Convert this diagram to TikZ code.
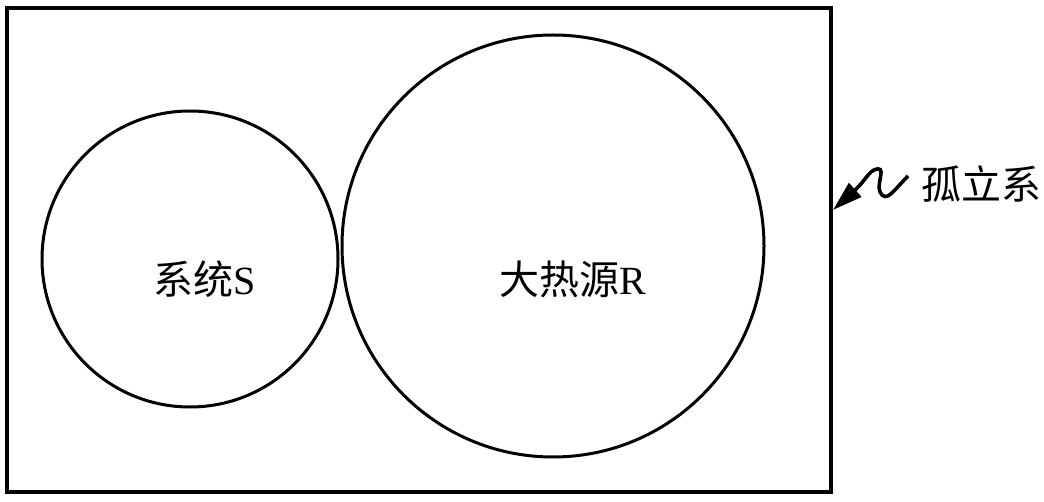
\documentclass[tikz,border=0pt]{standalone}
\usepackage{fontspec}
\setmainfont{Liberation Serif}
\newfontfamily\cjk{Noto Sans CJK SC}
\usetikzlibrary{arrows.meta}

\tikzset{
	ring/.style={circle, draw, line width=1.5pt, inner sep=0pt},
	label/.style={font=\fontsize{20}{20}\selectfont},
}

\begin{document}
\begin{tikzpicture}[x=0.5pt, y=-0.5pt]
	\useasboundingbox (0,0) rectangle (1044,502);
	% isolated system
	\node[draw, line width=2pt, minimum width=412pt, minimum height=242pt, inner sep=0pt] (iso) at (419,250) {};
	% system and reservoir
	\node[ring, minimum size=148pt] (sys) at (190,259) {};
	\node[ring, minimum size=211pt] (res) at (553,246) {};
	\node[label] (sysl) at (205,279) {{\cjk 系统}S};
	\node[label] (resl) at (573,279) {{\cjk 大热源}R};
	% pointer
	\node[label, anchor=west] (isol) at (914,184) {\cjk 孤立系};
	\coordinate (tip) at (833,210);
	\draw[line width=1.8pt, -{Triangle[length=15pt, width=9pt]}]
		([xshift=-3pt, yshift=4pt]isol.west) .. controls (894,190) and (886,204) .. (880,192)
		.. controls (876,183) and (888,164) .. (874,170)
		.. controls (868,173) and (864,182) .. (tip);
\end{tikzpicture}
\end{document}
